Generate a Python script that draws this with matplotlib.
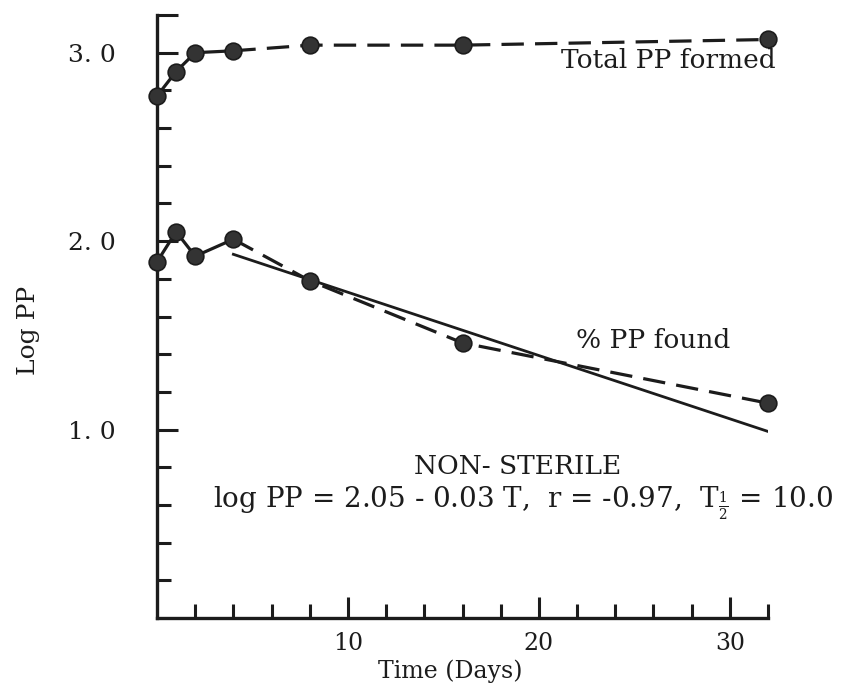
import numpy as np
import matplotlib
matplotlib.use("Agg")
import matplotlib.pyplot as plt
from matplotlib.ticker import FixedLocator

plt.rcParams["font.family"] = ["DejaVu Serif"]
plt.rcParams["mathtext.fontset"] = "dejavuserif"

# --------------------------------------------------
# Data
# --------------------------------------------------

days = [0, 1, 2, 4, 8, 16, 32]
total_pp = [2.77, 2.90, 3.00, 3.01, 3.04, 3.04, 3.07]
found_pp = [1.89, 2.05, 1.92, 2.01, 1.79, 1.46, 1.14]

# regression line as drawn
fit_days = [4, 32]
fit_logpp = [1.93, 0.99]

x_major = [10, 20, 30]
x_labels = ["10", "20", "30"]
x_minor = [2, 4, 6, 8, 12, 14, 16, 18, 22, 24, 26, 28, 32]
y_major = [1.0, 2.0, 3.0, 3.2]
y_labels = ["1. 0", "2. 0", "3. 0", ""]
y_minor = [0.2, 0.4, 0.6, 0.8, 1.2, 1.4, 1.6, 1.8, 2.2, 2.4, 2.6, 2.8]

# --------------------------------------------------
# Figure
# --------------------------------------------------

W, H = 858, 691
fig = plt.figure(figsize=(W / 100, H / 100), dpi=100)
ax = fig.add_axes([157 / W, 73 / H, (768 - 157) / W, (618 - 15) / H])

ink = "#1c1c1c"
dot = "#333333"
lw = 2.3
fs = 18

ax.set_xlim(0, 32)
ax.set_ylim(0, 3.2)

# solid through day 4, dashed afterwards
n_solid = 4

for series in (total_pp, found_pp):
    ax.plot(days[:n_solid], series[:n_solid], color=ink, lw=lw,
            solid_capstyle="round", clip_on=False, zorder=2)
    ax.plot(days[n_solid - 1:], series[n_solid - 1:], color=ink, lw=lw,
            dashes=(7, 3.5), clip_on=False, zorder=2)
    ax.plot(days, series, "o", ms=12, mfc=dot, mec=ink, mew=1.2,
            clip_on=False, zorder=3)

ax.plot(fit_days, fit_logpp, color=ink, lw=2.0, zorder=2)

# --------------------------------------------------
# Axes styling
# --------------------------------------------------

for side in ("top", "right"):
    ax.spines[side].set_visible(False)
for side in ("left", "bottom"):
    ax.spines[side].set_linewidth(2.4)
    ax.spines[side].set_color(ink)

ax.xaxis.set_major_locator(FixedLocator(x_major))
ax.xaxis.set_minor_locator(FixedLocator(x_minor))
ax.yaxis.set_major_locator(FixedLocator(y_major))
ax.yaxis.set_minor_locator(FixedLocator(y_minor))
ax.set_xticklabels(x_labels)
ax.set_yticklabels(y_labels)

ax.tick_params(which="major", direction="in", length=15, width=2.2,
               color=ink, labelsize=fs, labelcolor=ink)
ax.tick_params(which="minor", direction="in", length=10, width=2.2,
               color=ink)
ax.tick_params(axis="y", which="major", pad=30)
ax.tick_params(axis="x", which="major", pad=10, labelsize=17)

ax.set_xlabel("Time (Days)", fontsize=17, color=ink)
ax.xaxis.label.set_va("center")
ax.xaxis.set_label_coords((450 - 157) / 611, (618 - 671) / 603)

ax.set_ylabel("Log PP", fontsize=fs, color=ink)
ax.yaxis.label.set_va("center")
ax.yaxis.set_label_coords((28 - 157) / 611, (618 - 330) / 603)

# --------------------------------------------------
# Annotations (pixel positions from the reference)
# --------------------------------------------------

def at(px, py):
    return (px / W, 1 - py / H)

fig.text(*at(668, 61), "Total PP formed", fontsize=fs + 1, color=ink,
         ha="center", va="center")
fig.text(*at(653, 340), "% PP found", fontsize=fs + 1, color=ink,
         ha="center", va="center")
fig.text(*at(518, 467), "NON- STERILE", fontsize=fs + 1, color=ink,
         ha="center", va="center")
fig.text(*at(523, 503),
         r"log PP = 2.05 - 0.03 T,  r = -0.97,  T$_{\frac{1}{2}}$ = 10.0",
         fontsize=fs + 2, color=ink, ha="center", va="center")

fig.savefig("out.png", dpi=100, facecolor="white")
